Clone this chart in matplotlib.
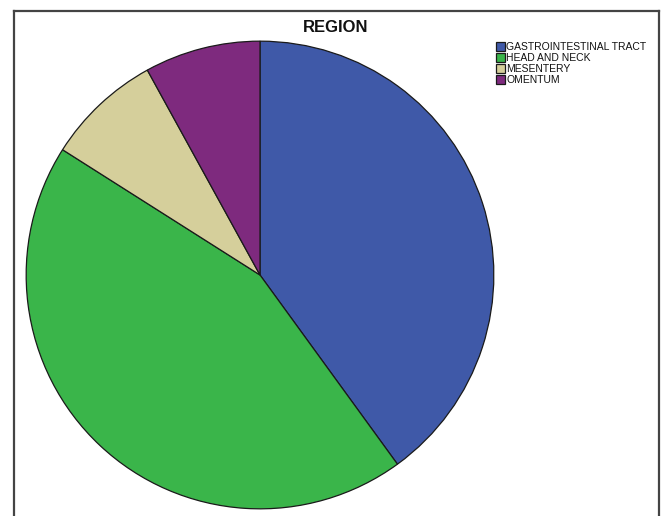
import matplotlib
matplotlib.use("Agg")
import matplotlib.pyplot as plt
from matplotlib.lines import Line2D

plt.rcParams['font.family'] = ['Liberation Sans', 'DejaVu Sans']

categories = ["GASTROINTESTINAL TRACT", "HEAD AND NECK", "MESENTERY", "OMENTUM"]
counts = [10, 11, 2, 2]
colors = ["#3F59A8", "#3AB54A", "#D5CF9B", "#7E2A7E"]
title = "REGION"

W, H = 662, 516
fig = plt.figure(figsize=(W / 100, H / 100), dpi=100)
fig.patch.set_facecolor("white")

# pie axes: circle spans x 25..495, y 40..510 (pixels from top)
ax = fig.add_axes([25 / W, (H - 510) / H, 470 / W, 470 / H])
wedges, _ = ax.pie(counts, colors=colors, startangle=90, counterclock=False,
                   radius=1, center=(0, 0),
                   wedgeprops=dict(edgecolor="#1a1a1a", linewidth=0.9))
ax.set_xlim(-1.005, 1.005)
ax.set_ylim(-1.005, 1.005)
ax.set_aspect("equal")
ax.axis("off")

fig.text(336 / W, 1 - 28 / H, title, ha="center", va="center",
         fontsize=12, fontweight="bold", color="#111111")

leg = fig.legend(wedges, categories, loc="upper left",
                 bbox_to_anchor=(496 / W, 1 - 42 / H), frameon=False,
                 fontsize=7.5, handlelength=0.85, handleheight=0.85,
                 handletextpad=0.15, labelspacing=0.1, borderaxespad=0,
                 borderpad=0)
for t in leg.get_texts():
    t.set_color("#111111")

# outer frame (open at bottom)
fc = "#444444"
lw = 1.6
fig.add_artist(Line2D([14 / W, 14 / W], [0, 1 - 11 / H], color=fc, lw=lw))
fig.add_artist(Line2D([14 / W, 659 / W], [1 - 11 / H, 1 - 11 / H], color=fc, lw=lw))
fig.add_artist(Line2D([659 / W, 659 / W], [0, 1 - 11 / H], color=fc, lw=lw))

fig.savefig("out.png", dpi=100, facecolor="white")
